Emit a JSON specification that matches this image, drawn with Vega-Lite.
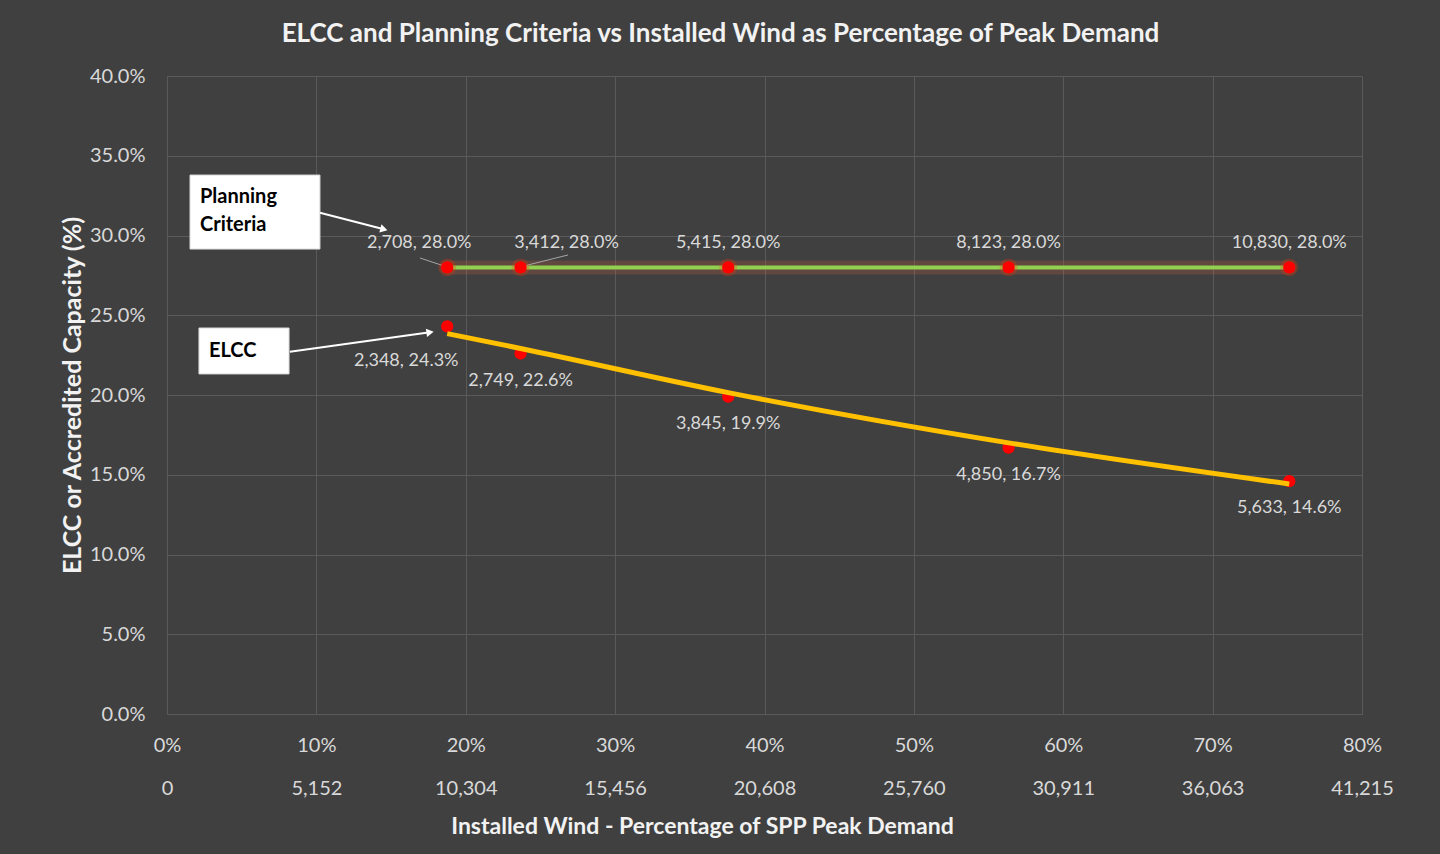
{
  "$schema": "https://vega.github.io/schema/vega-lite/v6.json",
  "width": 1195,
  "height": 638,
  "autosize": {"type": "none"},
  "padding": {"left": 167, "top": 76, "right": 78, "bottom": 140},
  "background": "#404040",
  "title": {
    "text": "ELCC and Planning Criteria vs Installed Wind as Percentage of Peak Demand",
    "font": "Lato", "fontSize": 26, "fontWeight": "bold", "color": "#F2F2F2",
    "anchor": "middle", "dx": -44, "offset": 19
  },
  "config": {
    "view": {"stroke": null},
    "axis": {
      "gridColor": "#5A5A5A", "gridWidth": 1, "domainColor": "#5A5A5A", "domainWidth": 1,
      "ticks": false, "labelFont": "Lato", "labelFontSize": 20, "labelColor": "#D9D9D9",
      "titleFont": "Lato", "titleFontSize": 23, "titleFontWeight": "bold", "titleColor": "#F2F2F2"
    }
  },
  "datasets": {
    "pts": [
      {"series": "Planning Criteria", "idx": 1, "x": 0.1876, "y": 0.28, "label": "2,708, 28.0%"},
      {"series": "Planning Criteria", "idx": 2, "x": 0.2367, "y": 0.28, "label": "3,412, 28.0%"},
      {"series": "Planning Criteria", "idx": 3, "x": 0.3757, "y": 0.28, "label": "5,415, 28.0%"},
      {"series": "Planning Criteria", "idx": 4, "x": 0.5634, "y": 0.28, "label": "8,123, 28.0%"},
      {"series": "Planning Criteria", "idx": 5, "x": 0.7513, "y": 0.28, "label": "10,830, 28.0%"},
      {"series": "ELCC", "idx": 1, "x": 0.1876, "y": 0.243, "label": "2,348, 24.3%"},
      {"series": "ELCC", "idx": 2, "x": 0.2367, "y": 0.226, "label": "2,749, 22.6%"},
      {"series": "ELCC", "idx": 3, "x": 0.3757, "y": 0.199, "label": "3,845, 19.9%"},
      {"series": "ELCC", "idx": 4, "x": 0.5634, "y": 0.167, "label": "4,850, 16.7%"},
      {"series": "ELCC", "idx": 5, "x": 0.7513, "y": 0.146, "label": "5,633, 14.6%"}
    ],
    "trend": [
      {"x": 0.1876, "y": 0.2385},
      {"x": 0.2367, "y": 0.2292},
      {"x": 0.3757, "y": 0.2015},
      {"x": 0.5634, "y": 0.1700},
      {"x": 0.7513, "y": 0.1442}
    ],
    "boxes": [
      {"name": "Planning Criteria", "x": 0.0154, "x2": 0.1024, "y": 0.3379, "y2": 0.2915},
      {"name": "ELCC", "x": 0.0214, "x2": 0.0817, "y": 0.2420, "y2": 0.2132}
    ],
    "boxtext": [
      {"text": "Planning", "x": 0.0221, "y": 0.3241},
      {"text": "Criteria", "x": 0.0221, "y": 0.3066},
      {"text": "ELCC", "x": 0.0281, "y": 0.2276}
    ],
    "arrows": [
      {"name": "Planning Criteria", "x": 0.1024, "y": 0.3143, "x2": 0.1452, "y2": 0.3039},
      {"name": "ELCC", "x": 0.0823, "y": 0.2271, "x2": 0.1761, "y2": 0.2393}
    ],
    "leaders": [
      {"x": 0.1694, "y": 0.2859, "x2": 0.1854, "y2": 0.2809},
      {"x": 0.2390, "y": 0.2809, "x2": 0.2685, "y2": 0.2878}
    ]
  },
  "layer": [
    {
      "data": {"name": "boxes"},
      "mark": {"type": "rect", "fill": "#FFFFFF", "stroke": "#D9D9D9", "strokeWidth": 1},
      "encoding": {
        "x": {
          "field": "x", "type": "quantitative",
          "scale": {"domain": [0, 0.8], "nice": false, "zero": true},
          "axis": {
            "title": "Installed Wind - Percentage of SPP Peak Demand",
            "values": [0, 0.1, 0.2, 0.3, 0.4, 0.5, 0.6, 0.7, 0.8],
            "grid": true, "labelFlush": false, "labelOverlap": false,
            "labelPadding": 21, "labelLineHeight": 43, "labelBaseline": "top",
            "labelExpr": "[format(datum.value, '.0%'), ['0','5,152','10,304','15,456','20,608','25,760','30,911','36,063','41,215'][round(datum.value*10)]]",
            "titleX": 535, "titleY": 112, "titleBaseline": "middle", "titleAlign": "center"
          }
        },
        "x2": {"field": "x2"},
        "y": {
          "field": "y", "type": "quantitative",
          "scale": {"domain": [0, 0.4], "nice": false, "zero": true},
          "axis": {
            "title": "ELCC or Accredited Capacity (%)",
            "values": [0, 0.05, 0.1, 0.15, 0.2, 0.25, 0.3, 0.35, 0.4],
            "format": ".1%", "grid": true, "labelPadding": 22, "labelOverlap": false,
            "titleFontSize": 25,
            "titleX": -95, "titleY": 319, "titleAngle": -90, "titleBaseline": "middle", "titleAlign": "center"
          }
        },
        "y2": {"field": "y2"}
      }
    },
    {
      "data": {"name": "boxtext"},
      "mark": {"type": "text", "font": "Lato", "fontSize": 20, "fontWeight": "bold", "color": "#000000", "align": "left", "baseline": "middle"},
      "encoding": {
        "x": {"field": "x", "type": "quantitative"},
        "y": {"field": "y", "type": "quantitative"},
        "text": {"field": "text"}
      }
    },
    {
      "data": {"name": "arrows"},
      "mark": {"type": "rule", "color": "#FFFFFF", "strokeWidth": 2},
      "encoding": {
        "x": {"field": "x", "type": "quantitative"},
        "y": {"field": "y", "type": "quantitative"},
        "x2": {"field": "x2"},
        "y2": {"field": "y2"}
      }
    },
    {
      "data": {"name": "arrows"},
      "transform": [{"filter": "datum.name == 'Planning Criteria'"}],
      "mark": {"type": "point", "shape": "triangle-right", "filled": true, "color": "#FFFFFF", "opacity": 1, "size": 70, "angle": 14.5},
      "encoding": {
        "x": {"field": "x2", "type": "quantitative"},
        "y": {"field": "y2", "type": "quantitative"}
      }
    },
    {
      "data": {"name": "arrows"},
      "transform": [{"filter": "datum.name == 'ELCC'"}],
      "mark": {"type": "point", "shape": "triangle-right", "filled": true, "color": "#FFFFFF", "opacity": 1, "size": 70, "angle": -8},
      "encoding": {
        "x": {"field": "x2", "type": "quantitative"},
        "y": {"field": "y2", "type": "quantitative"}
      }
    },
    {
      "data": {"name": "pts"},
      "transform": [{"filter": "datum.series == 'Planning Criteria'"}],
      "mark": {"type": "line", "color": "#D0603A", "opacity": 0.22, "strokeWidth": 14, "strokeCap": "round"},
      "encoding": {
        "x": {"field": "x", "type": "quantitative"},
        "y": {"field": "y", "type": "quantitative"}
      }
    },
    {
      "data": {"name": "pts"},
      "transform": [{"filter": "datum.series == 'Planning Criteria'"}],
      "mark": {"type": "line", "color": "#92D050", "strokeWidth": 4},
      "encoding": {
        "x": {"field": "x", "type": "quantitative"},
        "y": {"field": "y", "type": "quantitative"}
      }
    },
    {
      "data": {"name": "leaders"},
      "mark": {"type": "rule", "color": "#A6A6A6", "strokeWidth": 1},
      "encoding": {
        "x": {"field": "x", "type": "quantitative"},
        "y": {"field": "y", "type": "quantitative"},
        "x2": {"field": "x2"},
        "y2": {"field": "y2"}
      }
    },
    {
      "data": {"name": "pts"},
      "transform": [{"filter": "datum.series == 'Planning Criteria'"}],
      "mark": {"type": "circle", "color": "#FF3300", "opacity": 0.25, "size": 320},
      "encoding": {
        "x": {"field": "x", "type": "quantitative"},
        "y": {"field": "y", "type": "quantitative"}
      }
    },
    {
      "data": {"name": "pts"},
      "mark": {"type": "circle", "color": "#FF0000", "opacity": 1, "size": 150},
      "encoding": {
        "x": {"field": "x", "type": "quantitative"},
        "y": {"field": "y", "type": "quantitative"}
      }
    },
    {
      "data": {"name": "trend"},
      "mark": {"type": "line", "color": "#FFC000", "strokeWidth": 5, "interpolate": "monotone"},
      "encoding": {
        "x": {"field": "x", "type": "quantitative"},
        "y": {"field": "y", "type": "quantitative"}
      }
    },
    {
      "data": {"name": "pts"},
      "transform": [{"filter": "datum.series == 'Planning Criteria' && datum.idx > 2"}],
      "mark": {"type": "text", "font": "Lato", "fontSize": 18, "color": "#D9D9D9", "dy": -24, "baseline": "middle"},
      "encoding": {
        "x": {"field": "x", "type": "quantitative"},
        "y": {"field": "y", "type": "quantitative"},
        "text": {"field": "label"}
      }
    },
    {
      "data": {"name": "pts"},
      "transform": [{"filter": "datum.series == 'Planning Criteria' && datum.idx == 1"}],
      "mark": {"type": "text", "font": "Lato", "fontSize": 18, "color": "#D9D9D9", "dx": -28, "dy": -24, "baseline": "middle"},
      "encoding": {
        "x": {"field": "x", "type": "quantitative"},
        "y": {"field": "y", "type": "quantitative"},
        "text": {"field": "label"}
      }
    },
    {
      "data": {"name": "pts"},
      "transform": [{"filter": "datum.series == 'Planning Criteria' && datum.idx == 2"}],
      "mark": {"type": "text", "font": "Lato", "fontSize": 18, "color": "#D9D9D9", "dx": 46, "dy": -24, "baseline": "middle"},
      "encoding": {
        "x": {"field": "x", "type": "quantitative"},
        "y": {"field": "y", "type": "quantitative"},
        "text": {"field": "label"}
      }
    },
    {
      "data": {"name": "pts"},
      "transform": [{"filter": "datum.series == 'ELCC' && datum.idx > 1"}],
      "mark": {"type": "text", "font": "Lato", "fontSize": 18, "color": "#D9D9D9", "dy": 27, "baseline": "middle"},
      "encoding": {
        "x": {"field": "x", "type": "quantitative"},
        "y": {"field": "y", "type": "quantitative"},
        "text": {"field": "label"}
      }
    },
    {
      "data": {"name": "pts"},
      "transform": [{"filter": "datum.series == 'ELCC' && datum.idx == 1"}],
      "mark": {"type": "text", "font": "Lato", "fontSize": 18, "color": "#D9D9D9", "dx": -41, "dy": 35, "baseline": "middle"},
      "encoding": {
        "x": {"field": "x", "type": "quantitative"},
        "y": {"field": "y", "type": "quantitative"},
        "text": {"field": "label"}
      }
    }
  ]
}
